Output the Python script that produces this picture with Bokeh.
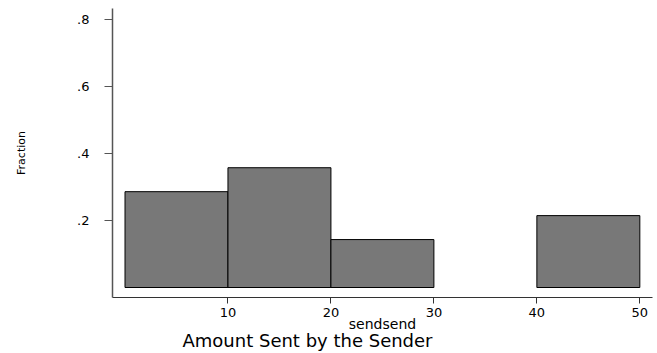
from bokeh.plotting import figure
from bokeh.models import Range1d, FixedTicker, Title
from bokeh.embed import file_html
from bokeh.resources import INLINE

# Histogram data (fraction of senders per bin of amount sent)
bin_left = [0, 10, 20, 40]
bin_right = [10, 20, 30, 50]
fraction = [0.2857, 0.3571, 0.1429, 0.2143]

x_ticks = [10, 20, 30, 40, 50]
y_ticks = [0.2, 0.4, 0.6, 0.8]
y_tick_labels = [".2", ".4", ".6", ".8"]

FONT = "DejaVu Sans"

p = figure(frame_width=540, frame_height=289,
           x_range=Range1d(-1.214, 51.23), y_range=Range1d(-0.0298, 0.8318),
           output_backend="svg", toolbar_location=None,
           min_border_left=112, min_border_right=5, min_border_top=8, min_border_bottom=56)

p.outline_line_color = None
p.xgrid.visible = False
p.ygrid.visible = False
p.background_fill_color = "white"
p.border_fill_color = "white"

p.quad(left=bin_left, right=bin_right, bottom=0, top=fraction,
       fill_color="#787878", line_color="black", line_width=1)

# x axis
xa = p.xaxis[0]
xa.ticker = FixedTicker(ticks=x_ticks)
xa.axis_line_color = "#333333"
xa.axis_line_width = 1
xa.major_tick_line_color = "#333333"
xa.major_tick_out = 6
xa.major_tick_in = 0
xa.minor_tick_line_color = None
xa.major_label_standoff = 4
xa.major_label_text_font = FONT
xa.major_label_text_font_size = "13px"
xa.major_label_text_color = "black"
xa.axis_label = "sendsend"
xa.axis_label_text_font = FONT
xa.axis_label_text_font_size = "14px"
xa.axis_label_text_font_style = "normal"
xa.axis_label_text_color = "black"
xa.axis_label_standoff = -4

# y axis
ya = p.yaxis[0]
ya.ticker = FixedTicker(ticks=y_ticks)
ya.major_label_overrides = dict(zip(y_ticks, y_tick_labels))
ya.axis_line_color = "#555555"
ya.axis_line_width = 1.5
ya.major_tick_line_color = "#555555"
ya.major_tick_out = 8
ya.major_tick_in = 0
ya.minor_tick_line_color = None
ya.major_label_standoff = 15
ya.major_label_text_font = FONT
ya.major_label_text_font_size = "13px"
ya.major_label_text_color = "black"
ya.axis_label = "Fraction"
ya.axis_label_text_font = FONT
ya.axis_label_text_font_size = "11px"
ya.axis_label_text_font_style = "normal"
ya.axis_label_text_color = "black"
ya.axis_label_standoff = 46

p.add_layout(Title(text="Amount Sent by the Sender", align="left", offset=70,
                   standoff=-13, text_font=FONT, text_font_size="18px",
                   text_font_style="normal", text_color="black"), "below")

open("out.html", "w").write(file_html(p, INLINE))
